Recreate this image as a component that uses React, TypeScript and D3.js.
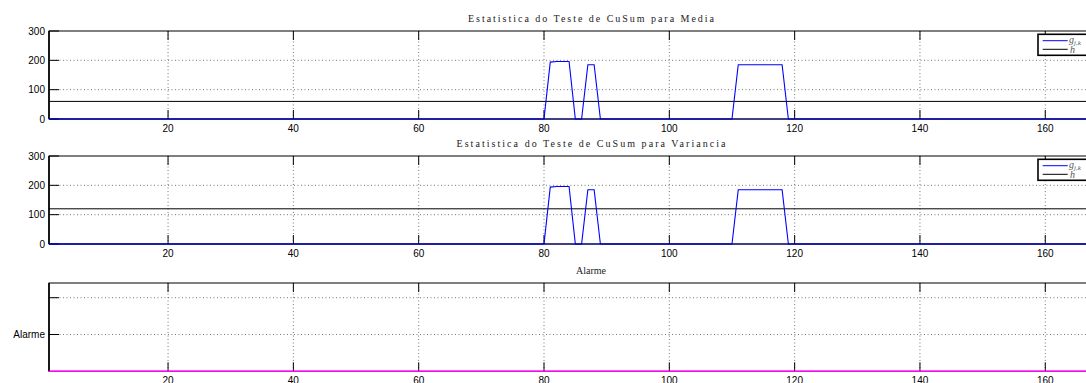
import React from "react";
import * as d3 from "d3";

// ---- data ----
const xDomain = [1, 174];
const xTicks = [20, 40, 60, 80, 100, 120, 140, 160];
const gX = [1, 80, 81, 82, 83, 84, 85, 86, 87, 88, 89, 110, 111, 112, 113, 114, 115, 116, 117, 118, 119, 174];
const gY = [0, 0, 194, 196, 196, 196, 0, 0, 185, 185, 0, 0, 185, 185, 185, 185, 185, 185, 185, 185, 0, 0];
const hMedia = 60;
const hVar = 120;
const alarmX = [1, 174];
const alarmY = [0, 0];
const cusumYTicks = [0, 100, 200, 300];
const alarmYTicks = [1, 2];
const alarmYLabels = ["Alarme", ""];
const titles = [
  "Estatistica do Teste de CuSum para Media",
  "Estatistica do Teste de CuSum para Variancia",
  "Alarme",
];

const W = 1086;
const H = 383;
const L = 49;
const R = 1133;
const panels = [
  { top: 31, bottom: 119 },
  { top: 156, bottom: 244 },
  { top: 283, bottom: 371.3 },
];

const sans = "'Liberation Sans', Arial, Helvetica, sans-serif";
const serif = "'Liberation Serif', 'DejaVu Serif', serif";

function Grid({ x, y, yTicks, top, bottom }: any) {
  return (
    <g>
      {xTicks.map((t) => (
        <line key={"gx" + t} x1={x(t)} x2={x(t)} y1={top} y2={bottom} stroke="#555" strokeWidth={0.8} strokeDasharray="1,2.5" />
      ))}
      {yTicks.map((t: number) => (
        <line key={"gy" + t} x1={L} x2={R} y1={y(t)} y2={y(t)} stroke="#555" strokeWidth={0.8} strokeDasharray="1,2.5" />
      ))}
    </g>
  );
}

function AxesBox({ x, y, yTicks, yLabels, top, bottom }: any) {
  return (
    <g>
      <rect x={L} y={top} width={R - L} height={bottom - top} fill="none" stroke="#000" strokeWidth={1} />
      <line x1={L} x2={L} y1={top} y2={bottom} stroke="#000" strokeWidth={1.6} />
      {xTicks.map((t) => (
        <g key={"xt" + t}>
          <line x1={x(t)} x2={x(t)} y1={top} y2={top + 9} stroke="#000" strokeWidth={1} />
          <line x1={x(t)} x2={x(t)} y1={bottom} y2={bottom - 9} stroke="#000" strokeWidth={1} />
          <text x={x(t)} y={bottom + 13} fontSize={10} fontFamily={sans} textAnchor="middle" fill="#000">
            {t}
          </text>
        </g>
      ))}
      {yTicks.map((t: number, i: number) => (
        <g key={"yt" + t}>
          <line x1={L} x2={L + 10} y1={y(t)} y2={y(t)} stroke="#000" strokeWidth={1} />
          <text x={L - 4} y={y(t) + 3.5} fontSize={10} fontFamily={sans} textAnchor="end" fill="#000">
            {yLabels ? yLabels[i] : t}
          </text>
        </g>
      ))}
    </g>
  );
}

function Legend({ top }: any) {
  const bx = 1038;
  const by = top + 3.3;
  return (
    <g>
      <rect x={bx} y={by} width={80} height={21} fill="#fff" stroke="#000" strokeWidth={1.6} />
      <line x1={bx + 4.7} x2={bx + 29.7} y1={by + 6.4} y2={by + 6.4} stroke="#0000ff" strokeWidth={1} />
      <line x1={bx + 4.7} x2={bx + 29.7} y1={by + 15} y2={by + 15} stroke="#000" strokeWidth={1} />
      <text x={bx + 31} y={by + 8.5} fontSize={10} fontFamily={serif} fontStyle="italic" fill="#555">
        g<tspan fontSize={7} dy={2}>j,k</tspan>
      </text>
      <text x={bx + 32} y={by + 19} fontSize={10} fontFamily={serif} fontStyle="italic" fill="#555">
        h
      </text>
    </g>
  );
}

export default function App() {
  const x = d3.scaleLinear().domain(xDomain).range([L, R]);
  const cusumPanels = [
    { ...panels[0], h: hMedia, title: titles[0], tlen: 246 },
    { ...panels[1], h: hVar, title: titles[1], tlen: 269 },
  ];
  const cx = (L + R) / 2;
  const p3 = panels[2];
  const y3 = d3.scaleLinear().domain([0, 2.4]).range([p3.bottom, p3.top]);
  const aLine = d3.line<number>().x((_, i) => x(alarmX[i])).y((d) => y3(d));
  return (
    <svg width={W} height={H} style={{ position: "absolute", left: 0, top: 0, background: "#fff" }}>
      <rect x={0} y={0} width={W} height={H} fill="#fff" />
      {cusumPanels.map((p, k) => {
        const y = d3.scaleLinear().domain([0, 300]).range([p.bottom, p.top]);
        const line = d3.line<number>().x((_, i) => x(gX[i])).y((d) => y(d));
        return (
          <g key={k}>
            <text x={cx} y={p.top - 9} fontSize={10} fontFamily={serif} textAnchor="middle" fill="#222" textLength={p.tlen} lengthAdjust="spacing">
              {p.title}
            </text>
            <Grid x={x} y={y} yTicks={[100, 200]} top={p.top} bottom={p.bottom} />
            <line x1={L} x2={R} y1={y(p.h)} y2={y(p.h)} stroke="#000" strokeWidth={1} />
            <AxesBox x={x} y={y} yTicks={cusumYTicks} top={p.top} bottom={p.bottom} />
            <path d={line(gY) || ""} fill="none" stroke="#0000ff" strokeWidth={1.1} />
            <line x1={L} x2={R} y1={p.bottom} y2={p.bottom} stroke="#00008a" strokeWidth={1.2} />
            <Legend top={p.top} />
          </g>
        );
      })}
      <g>
        <text x={cx} y={p3.top - 9} fontSize={10} fontFamily={serif} textAnchor="middle" fill="#222">
          {titles[2]}
        </text>
        <Grid x={x} y={y3} yTicks={alarmYTicks} top={p3.top} bottom={p3.bottom} />
        <AxesBox x={x} y={y3} yTicks={alarmYTicks} yLabels={alarmYLabels} top={p3.top} bottom={p3.bottom} />
        <path d={aLine(alarmY) || ""} fill="none" stroke="#ff00ff" strokeWidth={1.5} />
      </g>
    </svg>
  );
}
